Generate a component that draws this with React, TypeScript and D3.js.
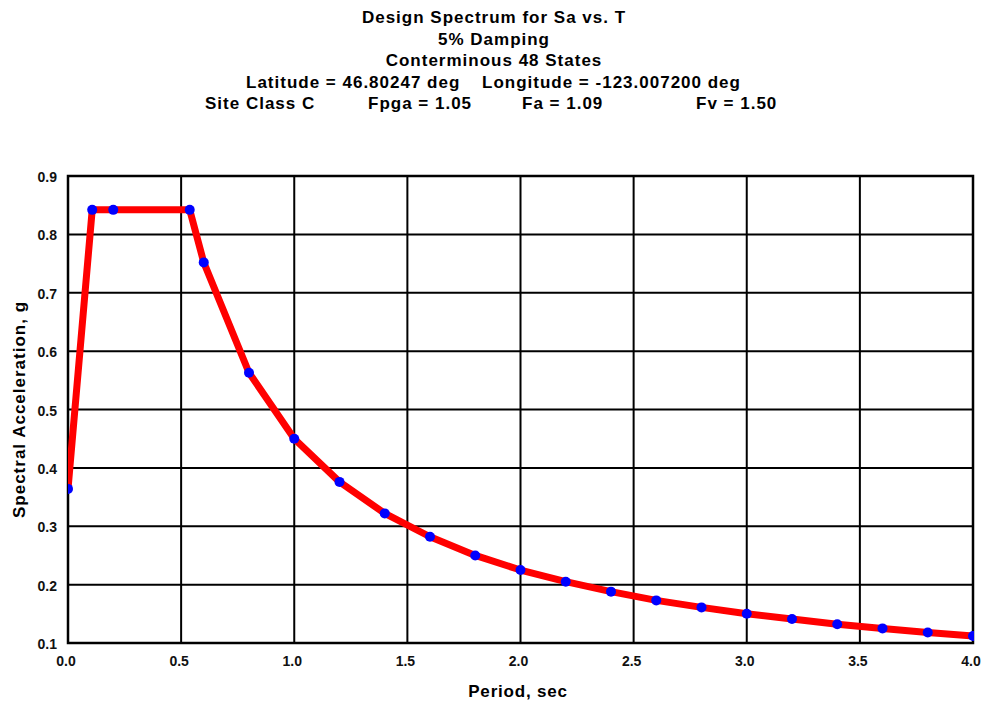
import React, { useEffect, useRef } from 'react';
import * as d3 from 'd3';

const periods = [0.0, 0.107, 0.2, 0.538, 0.6, 0.8, 1.0, 1.2, 1.4, 1.6, 1.8, 2.0, 2.2, 2.4, 2.6, 2.8, 3.0, 3.2, 3.4, 3.6, 3.8, 4.0];
const sa = [0.364, 0.842, 0.842, 0.842, 0.752, 0.563, 0.45, 0.376, 0.322, 0.282, 0.25, 0.225, 0.205, 0.188, 0.173, 0.161, 0.15, 0.141, 0.132, 0.125, 0.118, 0.112];

const xTicks = [0, 0.5, 1, 1.5, 2, 2.5, 3, 3.5, 4];
const yTicks = [0.1, 0.2, 0.3, 0.4, 0.5, 0.6, 0.7, 0.8, 0.9];

const titleLines = [
  'Design Spectrum for Sa vs. T',
  '5% Damping',
  'Conterminous 48 States',
];
const coordParts = ['Latitude = 46.80247 deg', 'Longitude = -123.007200 deg'];
const siteParts = ['Site Class C', 'Fpga = 1.05', 'Fa = 1.09', 'Fv = 1.50'];

const App = () => {
  const ref = useRef<SVGSVGElement>(null);

  const width = 985;
  const height = 702;
  const margin = { top: 176, right: 12, bottom: 59, left: 68 };

  useEffect(() => {
    const svg = d3.select(ref.current);
    svg.selectAll('*').remove();

    const font = '"Liberation Sans", Arial, sans-serif';

    const x = d3.scaleLinear().domain([0, 4]).range([margin.left, width - margin.right]);
    const y = d3.scaleLinear().domain([0.1, 0.9]).range([height - margin.bottom, margin.top]);

    // title block
    const title = svg.append('g')
      .attr('font-family', font)
      .attr('font-weight', 'bold')
      .attr('font-size', 17)
      .attr('letter-spacing', 1)
      .attr('fill', '#000');

    titleLines.forEach((t, i) => {
      title.append('text')
        .attr('x', 494)
        .attr('y', 23 + i * 21.5)
        .attr('text-anchor', 'middle')
        .text(t);
    });

    title.append('text').attr('x', 246).attr('y', 88).text(coordParts[0]);
    title.append('text').attr('x', 482).attr('y', 88).text(coordParts[1]);

    const siteX = [205, 368, 522, 696];
    siteParts.forEach((t, i) => {
      title.append('text').attr('x', siteX[i]).attr('y', 109).text(t);
    });

    // grid
    const grid = svg.append('g').attr('stroke', '#000').attr('stroke-width', 2);
    grid.selectAll('.vx')
      .data(xTicks)
      .enter()
      .append('line')
      .attr('x1', (d) => x(d))
      .attr('x2', (d) => x(d))
      .attr('y1', y(0.9))
      .attr('y2', y(0.1));
    grid.selectAll('.hy')
      .data(yTicks)
      .enter()
      .append('line')
      .attr('x1', x(0))
      .attr('x2', x(4))
      .attr('y1', (d) => y(d))
      .attr('y2', (d) => y(d));

    svg.append('rect')
      .attr('x', x(0))
      .attr('y', y(0.9))
      .attr('width', x(4) - x(0))
      .attr('height', y(0.1) - y(0.9))
      .attr('fill', 'none')
      .attr('stroke', '#000')
      .attr('stroke-width', 2.5);

    // tick labels
    const labels = svg.append('g')
      .attr('font-family', font)
      .attr('font-weight', 'bold')
      .attr('font-size', 14)
      .attr('fill', '#111');

    labels.selectAll('.yl')
      .data(yTicks)
      .enter()
      .append('text')
      .attr('x', x(0) - 11)
      .attr('y', (d) => y(d) + 6)
      .attr('text-anchor', 'end')
      .text((d) => d3.format('.1f')(d));

    labels.selectAll('.xl')
      .data(xTicks)
      .enter()
      .append('text')
      .attr('x', (d) => x(d) - 2)
      .attr('y', y(0.1) + 23)
      .attr('text-anchor', 'middle')
      .text((d) => d3.format('.1f')(d));

    // axis titles
    svg.append('text')
      .attr('font-family', font)
      .attr('font-weight', 'bold')
      .attr('font-size', 17)
      .attr('letter-spacing', 0.8)
      .attr('text-anchor', 'middle')
      .attr('x', 518)
      .attr('y', 697)
      .text('Period, sec');

    svg.append('text')
      .attr('font-family', font)
      .attr('font-weight', 'bold')
      .attr('font-size', 17)
      .attr('letter-spacing', 1)
      .attr('text-anchor', 'middle')
      .attr('transform', `translate(25, ${(y(0.1) + y(0.9)) / 2}) rotate(-90)`)
      .text('Spectral Acceleration, g');

    // curve
    const pts: [number, number][] = periods.map((p, i) => [p, sa[i]]);
    svg.append('clipPath').attr('id', 'plot-clip')
      .append('rect')
      .attr('x', x(0))
      .attr('y', y(0.9))
      .attr('width', x(4) - x(0) + 1)
      .attr('height', y(0.1) - y(0.9));

    const plot = svg.append('g').attr('clip-path', 'url(#plot-clip)');

    const line = d3.line<[number, number]>()
      .x((d) => x(d[0]))
      .y((d) => y(d[1]));

    plot.append('path')
      .datum(pts)
      .attr('d', line)
      .attr('fill', 'none')
      .attr('stroke', '#ff0000')
      .attr('stroke-width', 7)
      .attr('stroke-linejoin', 'round');

    plot.selectAll('.pt')
      .data(pts)
      .enter()
      .append('circle')
      .attr('cx', (d) => x(d[0]))
      .attr('cy', (d) => y(d[1]))
      .attr('r', 5)
      .attr('fill', '#0000ff');
  }, []);

  return (
    <svg
      ref={ref}
      width={width}
      height={height}
      style={{ display: 'block', position: 'absolute', left: 0, top: 0 }}
    />
  );
};

export default App;
